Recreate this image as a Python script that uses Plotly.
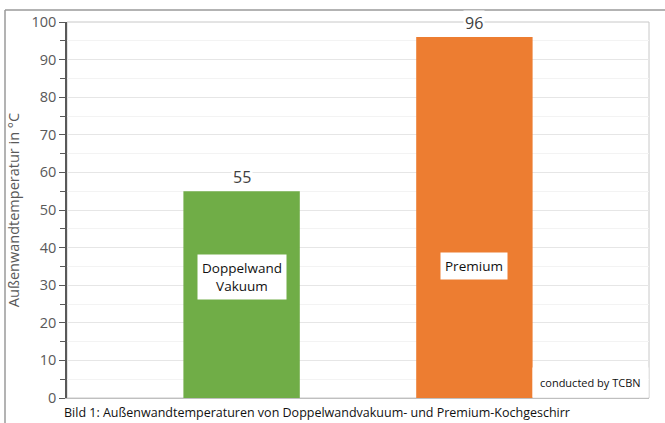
import plotly.graph_objects as go

categories = ["Doppelwand<br>Vakuum", "Premium"]
values = [55, 96]
colors = ["#70AD47", "#ED7D31"]
label_y = [32.3, 35]
y_title = "Außenwandtemperatur in °C"
caption = "Bild 1: Außenwandtemperaturen von Doppelwandvakuum- und Premium-Kochgeschirr"
credit = "conducted by TCBN"

FONT = "Open Sans"
xpos = list(range(len(values)))

fig = go.Figure()
fig.add_trace(go.Bar(x=xpos, y=values, width=0.5, marker=dict(color=colors, line=dict(width=0)),
                     hoverinfo="skip"))

ann = []
for x, v in zip(xpos, values):
    ann.append(dict(x=x, y=v, text=str(v), showarrow=False, yanchor="bottom", yshift=1,
                    font=dict(family=FONT, size=16, color="#404040"), bgcolor="white", borderpad=1))
for x, c, ly in zip(xpos, categories, label_y):
    ann.append(dict(x=x, y=ly, text=c, showarrow=False, font=dict(family=FONT, size=13.5, color="#111"),
                    bgcolor="white", borderpad=4))
ann.append(dict(x=1.0, y=0.0, xref="paper", yref="paper", xanchor="right", yanchor="bottom",
                text=credit, showarrow=False, font=dict(family=FONT, size=11, color="#111"),
                bgcolor="white", borderpad=7))
ann.append(dict(x=(62 - 67) / 582, y=(398 - 413) / 378, xref="paper", yref="paper", xanchor="left",
                yanchor="middle", text=caption, showarrow=False,
                font=dict(family=FONT, size=12.5, color="#111")))

shapes = [
    dict(type="rect", xref="paper", yref="paper", x0=0, x1=1, y0=0, y1=1,
         line=dict(color="#c8c8c8", width=1), layer="below"),
    dict(type="line", xref="paper", yref="paper", x0=(5 - 67) / 582, x1=1.05, y0=(398 - 8) / 378,
         y1=(398 - 8) / 378, line=dict(color="#9a9a9a", width=1.5)),
    dict(type="line", xref="paper", yref="paper", x0=(5 - 67) / 582, x1=(5 - 67) / 582, y0=-0.1,
         y1=(398 - 8) / 378, line=dict(color="#9a9a9a", width=1.5)),
]

fig.update_layout(
    width=665, height=423,
    margin=dict(l=67, r=16, t=20, b=25),
    paper_bgcolor="white", plot_bgcolor="white",
    showlegend=False,
    annotations=ann, shapes=shapes,
    xaxis=dict(range=[-0.75, 1.75], showticklabels=False, showgrid=False, zeroline=False,
               showline=True, linecolor="#bfbfbf", linewidth=1, ticks=""),
    yaxis=dict(range=[0, 100], dtick=10, showgrid=True, gridcolor="#e6e6e6", gridwidth=1,
               zeroline=False, showline=True, linecolor="#595959", linewidth=1.5,
               ticks="outside", ticklen=6, tickcolor="#595959",
               tickfont=dict(family=FONT, size=14.5, color="#595959"),
               minor=dict(dtick=5, ticks="outside", ticklen=5, tickcolor="#595959",
                          showgrid=True, gridcolor="#f3f3f3"),
               title=dict(text=y_title, font=dict(family=FONT, size=14.5, color="#595959"), standoff=8)),
)

fig.write_html("out.html")
